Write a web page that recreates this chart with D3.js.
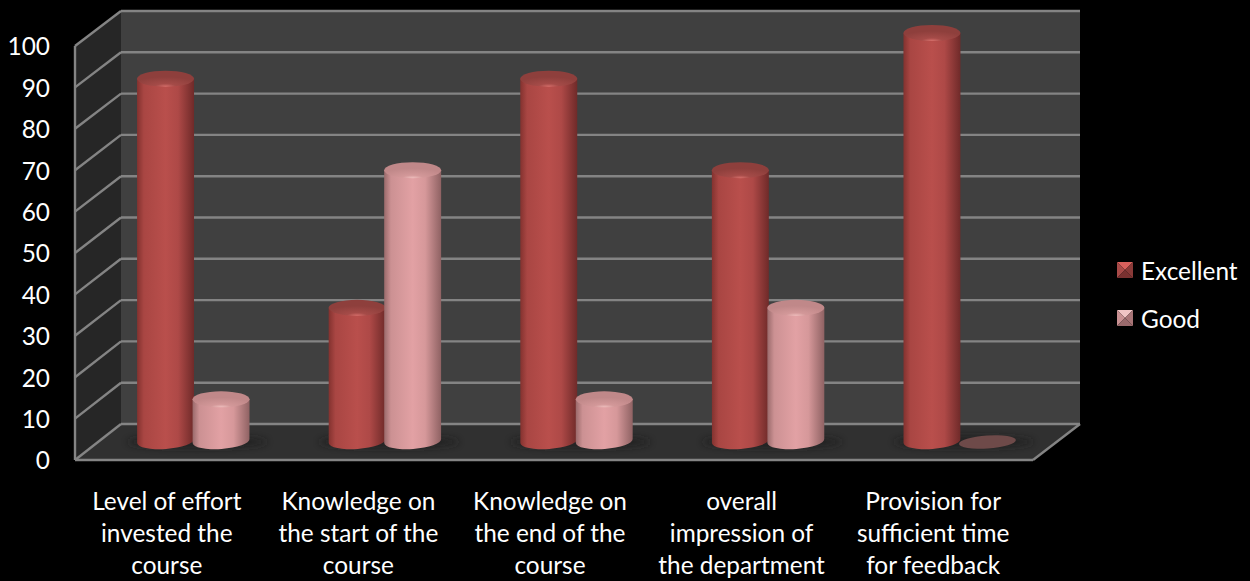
<!DOCTYPE html>
<html>
<head>
<meta charset="utf-8">
<script src="https://d3js.org/d3.v7.min.js"></script>
<style>
html, body { margin: 0; padding: 0; background: #000; overflow: hidden; }
text { font-family: Lato, "Open Sans", sans-serif; fill: #fff; }
</style>
</head>
<body>
<div id="chart"></div>
<script>
var categories = [
    ["Level of effort", "invested the", "course"],
    ["Knowledge on", "the start of the", "course"],
    ["Knowledge on", "the end of the", "course"],
    ["overall", "impression of", "the department"],
    ["Provision for", "sufficient time", "for feedback"]
];
var seriesNames = ["Excellent", "Good"];
var excellent = [88.9, 33.3, 88.9, 66.7, 100];
var good = [11.1, 66.7, 11.1, 33.3, 0];
var tickValues = [0, 10, 20, 30, 40, 50, 60, 70, 80, 90, 100];

var svgWidth = 1250;
var svgHeight = 581;
var fontSize = "24.4px";

var svg = d3.select("#chart")
    .append("svg")
    .attr("width", svgWidth)
    .attr("height", svgHeight)
    .style("display", "block");

var defs = svg.append("defs");

//cylinder shading, one set per series
var palettes = [
    { edgeL: "#83322f", mid: "#b94f4c", edgeR: "#6f2a29", top0: "#8e3f3c", top1: "#a54b48", glow: "#d8706c" },
    { edgeL: "#9a6a6b", mid: "#e2a1a4", edgeR: "#8f6263", top0: "#c08889", top1: "#d39899", glow: "#f0c0bf" }
];
palettes.forEach(function(p, i) {
    var body = defs.append("linearGradient").attr("id", "body" + i);
    [[0, p.edgeL], [0.12, d3.interpolateRgb(p.edgeL, p.mid)(0.7)], [0.5, p.mid], [0.72, d3.interpolateRgb(p.edgeR, p.mid)(0.85)], [1, p.edgeR]]
        .forEach(function(s) {
            body.append("stop").attr("offset", s[0]).attr("stop-color", s[1]);
        });
    var top = defs.append("radialGradient").attr("id", "top" + i)
        .attr("cx", 0.5).attr("cy", 1).attr("r", 0.62);
    [[0, p.glow], [0.3, p.top1], [1, p.top0]].forEach(function(s) {
        top.append("stop").attr("offset", s[0]).attr("stop-color", s[1]);
    });
});

defs.append("filter").attr("id", "blur")
    .attr("x", "-30%").attr("y", "-150%").attr("width", "160%").attr("height", "400%")
    .append("feGaussianBlur").attr("stdDeviation", 3.5);

//back wall and front edge use separate scales because of the 3d offset
var yBack = d3.scaleLinear().domain([0, 100]).range([424, 11]);
var yFront = d3.scaleLinear().domain([0, 100]).range([460, 46]);
var yBar = d3.scaleLinear().domain([0, 100]).range([445, 33]);
var baseY = 441;

var xFront = d3.scaleBand().domain(d3.range(5)).range([71, 1029]);
var xBar = d3.scaleBand().domain(d3.range(5)).range([97.5, 1055.5]);
var xSeries = d3.scaleBand().domain([0, 1]).range([xBar.bandwidth() / 2 - 55.5, xBar.bandwidth() / 2 + 55.5]);

var wallLeft = 121, wallRight = 1080, frontLeft = 75, frontRight = 1033;

//walls
svg.append("polygon")
    .attr("points", [[wallLeft, yBack(100)], [wallRight, yBack(100)], [wallRight, yBack(0)], [wallLeft, yBack(0)]].join(" "))
    .attr("fill", "#404040");
svg.append("polygon")
    .attr("points", [[frontLeft, yFront(100)], [wallLeft, yBack(100)], [wallLeft, yBack(0)], [frontLeft, yFront(0)]].join(" "))
    .attr("fill", "#262626");
svg.append("polygon")
    .attr("points", [[frontLeft, yFront(0)], [wallLeft, yBack(0)], [wallRight, yBack(0)], [frontRight, yFront(0)]].join(" "))
    .attr("fill", "#303030");

//shadows on the floor, under the gridlines
svg.selectAll(".shadow").data(d3.range(5)).enter().append("ellipse")
    .attr("cx", d => xBar(d) + xBar.bandwidth() / 2 + 4)
    .attr("cy", baseY + 1)
    .attr("rx", 70)
    .attr("ry", 6)
    .attr("fill", "#1e1e1e")
    .attr("opacity", 0.75)
    .attr("filter", "url(#blur)");

//gridlines
var gridColor = "#848484";
var grid = svg.append("g").attr("stroke", gridColor).attr("stroke-width", 2.4).attr("fill", "none");
grid.selectAll(".back").data(tickValues).enter().append("line")
    .attr("x1", wallLeft).attr("x2", wallRight)
    .attr("y1", d => yBack(d)).attr("y2", d => yBack(d));
grid.selectAll(".side").data(tickValues).enter().append("line")
    .attr("x1", frontLeft).attr("x2", wallLeft)
    .attr("y1", d => yFront(d)).attr("y2", d => yBack(d));
grid.append("line").attr("x1", frontLeft).attr("x2", frontLeft).attr("y1", yFront(100)).attr("y2", yFront(0));
grid.append("line").attr("x1", frontLeft).attr("x2", frontRight).attr("y1", yFront(0)).attr("y2", yFront(0));
grid.append("line").attr("x1", frontRight).attr("x2", wallRight).attr("y1", yFront(0)).attr("y2", yBack(0));

var rx = 28.5, ry = 8, tilt = -4;

function cylinder(g, x, value, s) {
    var yTop = yBar(value);
    var dx = rx * Math.cos(tilt * Math.PI / 180);
    var dy = rx * Math.sin(tilt * Math.PI / 180);
    if (value === 0) {
        g.append("ellipse")
            .attr("cx", x).attr("cy", baseY + 1)
            .attr("rx", rx).attr("ry", 6.5)
            .attr("transform", `rotate(${tilt} ${x} ${baseY + 1})`)
            .attr("fill", "#6e4a49");
        return;
    }
    g.append("path")
        .attr("d", `M${x - rx},${yTop} L${x + rx},${yTop} L${x + dx},${baseY + dy} A${rx},${ry} ${tilt} 0 1 ${x - dx},${baseY - dy} Z`)
        .attr("fill", `url(#body${s})`);
    g.append("ellipse")
        .attr("cx", x).attr("cy", yTop)
        .attr("rx", rx).attr("ry", ry)
        .attr("fill", `url(#top${s})`);
}

d3.range(5).forEach(function(i) {
    var g = svg.append("g").attr("transform", `translate(${xBar(i)},0)`);
    [excellent, good].forEach(function(values, s) {
        cylinder(g, xSeries(s) + xSeries.bandwidth() / 2, values[i], s);
    });
});

//y axis
var yAxis = d3.axisLeft(yFront).tickValues(tickValues).tickSize(0).tickPadding(0);
var yAxisG = svg.append("g").attr("transform", "translate(50,1)").call(yAxis);
yAxisG.select(".domain").remove();
yAxisG.selectAll("text").style("font-size", fontSize).attr("fill", "#fff");

//category labels
var lineY = [510, 542, 574];
var catLabels = svg.selectAll(".cat").data(categories).enter().append("text")
    .attr("class", "cat")
    .attr("text-anchor", "middle")
    .style("font-size", fontSize);
catLabels.selectAll("tspan").data(d => d).enter().append("tspan")
    .attr("x", function() { return xFront(categories.indexOf(d3.select(this.parentNode).datum())) + xFront.bandwidth() / 2; })
    .attr("y", (d, j) => lineY[j])
    .text(d => d);

//legend
var legendY = d3.scalePoint().domain(seriesNames).range([270, 318]);
var legendFaces = [
    ["#a84a48", "#d8605c", "#8a3a38", "#7a3130"],
    ["#c99092", "#f0c4c4", "#a87476", "#9a6a6c"]
];
seriesNames.forEach(function(name, s) {
    var y = legendY(name), x = 1117, size = 16;
    var left = x, right = x + size, top = y - size / 2, bottom = y + size / 2;
    var cx = x + size / 2, cy = y;
    var f = legendFaces[s];
    var g = svg.append("g");
    [[[left, top], [right, top]], [[left, top], [left, bottom]], [[left, bottom], [right, bottom]], [[right, top], [right, bottom]]]
        .forEach(function(edge, k) {
            g.append("polygon")
                .attr("points", [edge[0], edge[1], [cx, cy]].join(" "))
                .attr("fill", [f[1], f[0], f[3], f[2]][k]);
        });
    svg.append("text")
        .attr("x", 1141).attr("y", y + 10)
        .style("font-size", fontSize)
        .text(name);
});
</script>
</body>
</html>
